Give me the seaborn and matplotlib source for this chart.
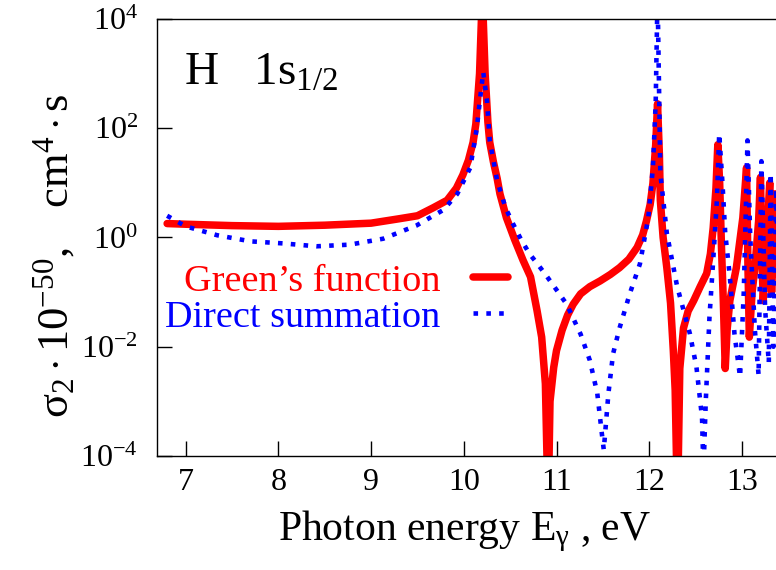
import matplotlib
matplotlib.use("Agg")
import matplotlib.pyplot as plt
import numpy as np
import pandas as pd
import seaborn as sns
from matplotlib.ticker import FixedLocator, NullLocator, LogFormatterSciNotation

# ---- data (x in eV, y in 1e-50 cm^4 s) ----
green_x = [6.80, 7.00, 7.50, 8.00, 8.50, 9.00, 9.30, 9.50, 9.67, 9.82, 9.92, 9.99,
           10.05, 10.10, 10.13, 10.17, 10.20, 10.23, 10.26, 10.28, 10.32, 10.36, 10.39,
           10.46, 10.55, 10.64, 10.72, 10.79, 10.84, 10.88, 10.91, 10.93, 10.97, 11.00,
           11.06, 11.12, 11.18, 11.26, 11.36, 11.47, 11.58, 11.68, 11.78, 11.87, 11.93,
           11.97, 12.01, 12.04, 12.07, 12.09, 12.11, 12.12, 12.15, 12.19, 12.23, 12.26,
           12.28, 12.305, 12.33, 12.37, 12.42, 12.48, 12.55, 12.62, 12.66, 12.69, 12.72,
           12.74, 12.76, 12.78, 12.80, 12.82, 12.84, 12.87, 12.94, 13.01, 13.05, 13.065,
           13.08, 13.11, 13.14, 13.18, 13.20, 13.215, 13.23, 13.26, 13.28, 13.30, 13.32,
           13.34, 13.36, 13.38, 13.40]
green_y = [1.8, 1.75, 1.65, 1.6, 1.68, 1.83, 2.2, 2.5, 3.5, 4.8, 8.0, 14.0,
           26.0, 55.0, 120.0, 1000.0, 30000.0, 1000.0, 130.0, 55.0, 24.0, 12.0, 6.3,
           2.3, 0.9, 0.38, 0.19, 0.046, 0.015, 2.1e-3, 1e-5, 1e-3, 4.2e-3, 8.5e-3,
           0.02, 0.038, 0.06, 0.093, 0.126, 0.16, 0.21, 0.28, 0.4, 0.66, 1.12,
           2.0, 4.0, 9.8, 50.0, 280.0, 32.0, 4.8, 1.0, 0.28, 0.063, 8.5e-3,
           1.6e-3, 1e-5, 4e-3, 0.022, 0.045, 0.07, 0.126, 0.22, 0.5, 1.5, 8.0,
           50.0, 10.0, 0.63, 0.063, 4e-3, 0.02, 0.07, 0.28, 2.3, 19.0, 0.3,
           0.015, 0.1, 0.28, 2.0, 12.6, 0.5, 0.07, 0.5, 2.3, 10.0, 0.1,
           1.0, 6.3, 0.16, 3.2]

direct_x = [6.80, 7.00, 7.34, 7.70, 8.05, 8.41, 8.77, 9.13, 9.49, 9.78, 9.93, 10.07,
            10.14, 10.18, 10.21, 10.25, 10.28, 10.36, 10.45, 10.53, 10.62, 10.71, 10.80,
            10.90, 11.00, 11.11, 11.26, 11.36, 11.44, 11.49, 11.51, 11.56, 11.61, 11.68,
            11.79, 11.90, 11.99, 12.04, 12.07, 12.09, 12.11, 12.12, 12.19, 12.30, 12.44,
            12.51, 12.57, 12.585, 12.61, 12.65, 12.69, 12.73, 12.755, 12.79, 12.82, 12.87,
            12.92, 12.98, 13.02, 13.045, 13.06, 13.09, 13.14, 13.18, 13.21, 13.25, 13.29,
            13.31, 13.34, 13.37, 13.40]
direct_y = [2.5, 1.6, 1.1, 0.85, 0.78, 0.69, 0.74, 0.95, 1.66, 3.2, 6.3, 19.0,
            100.0, 400.0, 1070.0, 320.0, 60.0, 11.0, 3.5, 1.8, 0.9, 0.5, 0.32,
            0.19, 0.11, 0.06, 0.017, 5.6e-3, 1.4e-3, 2.5e-4, 1.3e-4, 1.4e-3, 7.4e-3, 0.022,
            0.093, 0.33, 2.3, 19.0, 300.0, 30000.0, 200.0, 15.0, 1.2, 0.13, 0.017,
            4.2e-3, 5e-4, 5e-5, 1e-3, 0.035, 0.38, 4.8, 80.0, 10.0, 1.2, 0.19,
            0.017, 2.8e-3, 0.1, 5.0, 60.0, 1.0, 0.02, 3e-3, 25.0, 0.05, 5e-3,
            15.0, 0.01, 8.0, 0.02]

series_labels = ["Green\u2019s function", "Direct summation"]
x_ticks = [7, 8, 9, 10, 11, 12, 13]
y_ticks = [1e-4, 1e-2, 1e0, 1e2, 1e4]
x_label = r"Photon energy E$_{\mathrm{\gamma}}$ , eV"
y_label = r"$\mathrm{\sigma_2\cdot10^{-50},\ \ \ cm^4\cdot s}$"
panel_label = r"H   1s$_{1/2}$"

# ---- style ----
sns.set_theme(style="ticks")
plt.rcParams.update({
    "mathtext.fontset": "custom",
    "mathtext.rm": "Liberation Serif",
    "mathtext.it": "Liberation Serif:italic",
    "mathtext.bf": "Liberation Serif:bold",
    "axes.unicode_minus": False,
    "axes.linewidth": 1.0,
    "axes.edgecolor": "black",
    "text.color": "black",
    "axes.labelcolor": "black",
    "xtick.color": "black",
    "ytick.color": "black",
})
plt.rcParams["font.family"] = ["Liberation Serif", "DejaVu Serif"]

W, H = 776, 570
fig = plt.figure(figsize=(W / 100, H / 100), dpi=100)
ax_left, ax_right, ax_top, ax_bottom = 157.3, 779.0, 19.0, 456.0
ax = fig.add_axes([ax_left / W, (H - ax_bottom) / H,
                   (ax_right - ax_left) / W, (ax_bottom - ax_top) / H])

df_g = pd.DataFrame({"E": green_x, "sigma": green_y})
df_d = pd.DataFrame({"E": direct_x, "sigma": direct_y})

sns.lineplot(data=df_g, x="E", y="sigma", ax=ax, color="#ff0000", linewidth=5.4,
             sort=False, estimator=None, label=series_labels[0])
sns.lineplot(data=df_d, x="E", y="sigma", ax=ax, color="#0000ff", linewidth=3.3,
             sort=False, estimator=None, label=series_labels[1],
             linestyle=(0, (1.0, 1.8)), dash_capstyle="butt")

ax.set_yscale("log")
ax.set_xlim(6.694, 13.4)
ax.set_ylim(1e-4, 1e4)
ax.xaxis.set_major_locator(FixedLocator(x_ticks))
ax.yaxis.set_major_locator(FixedLocator(y_ticks))
ax.yaxis.set_major_formatter(LogFormatterSciNotation())
ax.xaxis.set_minor_locator(NullLocator())
ax.yaxis.set_minor_locator(NullLocator())
ax.tick_params(axis="both", which="major", direction="in", length=10.8, width=1.0,
               labelsize=23, colors="black")
ax.tick_params(axis="x", pad=9)
ax.tick_params(axis="y", pad=14)
ax.spines["right"].set_visible(False)
for s in ["left", "bottom", "top"]:
    ax.spines[s].set_color("black")
    ax.spines[s].set_linewidth(1.0)

ax.set_xlabel(x_label, fontsize=30, va="baseline")
ax.xaxis.set_label_coords((464 - ax_left) / (ax_right - ax_left),
                          (ax_bottom - 540) / (ax_bottom - ax_top))
ax.set_ylabel(y_label, fontsize=32, va="center")
ax.yaxis.set_label_coords((54 - ax_left) / (ax_right - ax_left),
                          (ax_bottom - 256) / (ax_bottom - ax_top))

ax.text((184 - ax_left) / (ax_right - ax_left), (ax_bottom - 85) / (ax_bottom - ax_top),
        panel_label, transform=ax.transAxes, fontsize=34, ha="left", va="baseline")

leg = ax.legend(loc="upper right", bbox_to_anchor=(508 / W, (H - 264) / H),
                bbox_transform=fig.transFigure, frameon=False, markerfirst=False,
                handlelength=0.92, handletextpad=0.85, labelspacing=0.03,
                borderpad=0.0, borderaxespad=0.0, fontsize=27.5, labelcolor="linecolor")

fig.savefig("out.png", dpi=100)
